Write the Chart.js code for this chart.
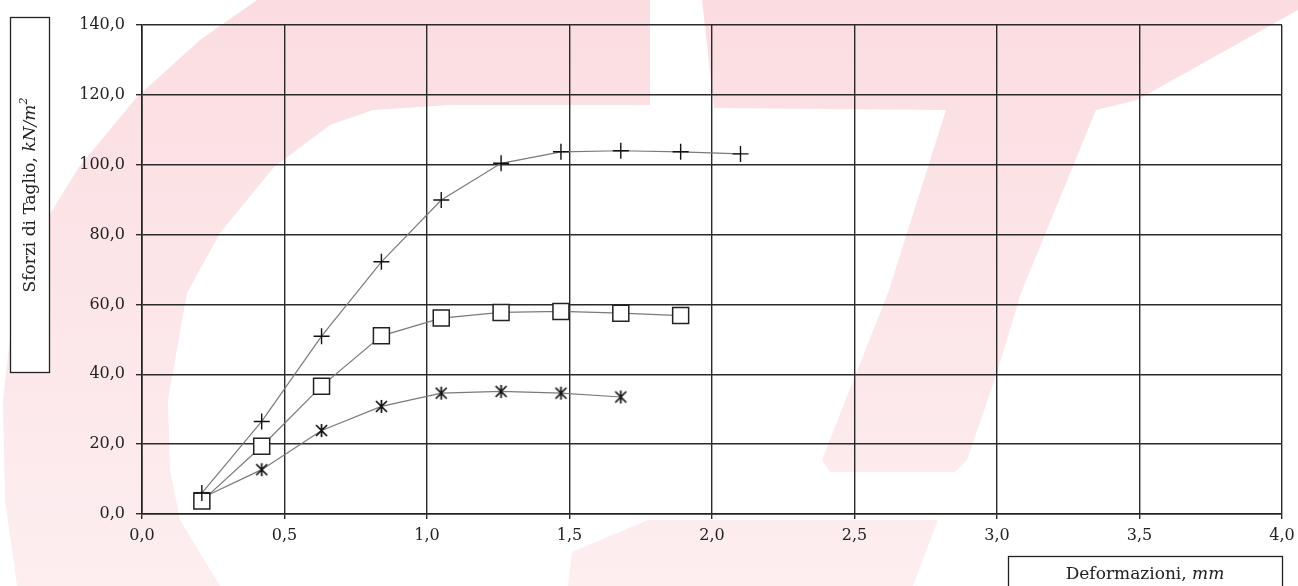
<!DOCTYPE html>
<html>
<head>
<meta charset="utf-8">
<script src="https://cdn.jsdelivr.net/npm/chart.js@4/dist/chart.umd.min.js"></script>
<style>
html,body{margin:0;padding:0;background:#fff}
#wrap{width:1298px;height:586px;position:relative}
</style>
</head>
<body>
<div id="wrap"><canvas id="chart" width="1298" height="586"></canvas></div>
<script>
// deformazioni (mm)
const xDef=[0.21,0.42,0.63,0.84,1.05,1.26,1.47,1.68,1.89,2.10];
// sforzi di taglio (kN/m2), one list per test
const sPlus=[6.0,26.5,50.9,72.2,89.9,100.4,103.7,104.0,103.7,103.1];
const sSquare=[3.7,19.4,36.6,51.0,56.1,57.7,58.0,57.5,56.8];
const sStar=[4.6,12.7,23.9,30.8,34.6,35.1,34.6,33.5];
const yTicks=[0,20,40,60,80,100,120,140];
const xTicks=[0,0.5,1,1.5,2,2.5,3,3.5,4];

const SERIF="'DejaVu Serif', serif";

function pts(vals){ return vals.map((v,i)=>({x:xDef[i],y:v})); }

/* marker for the third series: an asterisk with six arms */
function asterisk(){
  const c=document.createElement("canvas");
  c.width=17;c.height=17;
  const g=c.getContext("2d");
  g.strokeStyle="#111";g.lineWidth=1.7;
  g.beginPath();
  g.moveTo(3,3);g.lineTo(14,14);
  g.moveTo(14,3);g.lineTo(3,14);
  g.moveTo(8.5,2);g.lineTo(8.5,15);
  g.stroke();
  return c;
}

/* faint red watermark behind the scan */
const watermark={
  id:"watermark",
  beforeDraw(chart){
    const c=chart.ctx;
    c.save();
    c.fillStyle="#fff";
    c.fillRect(0,0,chart.width,chart.height);
    const grad=c.createLinearGradient(0,0,0,586);
    grad.addColorStop(0,"#fbdde1");
    grad.addColorStop(1,"#fdeef0");
    c.fillStyle=grad;
    const shapes=[
      [[257,0],[200,40],[137,97],[79,167],[40,230],[15,293],[3,400],[5,500],[17,586],[220,586],[180,520],[170,470],[168,400],[187,293],[220,233],[274,167],[330,125],[373,110],[450,105],[650,105],[650,0]],
      [[702,0],[1298,0],[1298,10],[1137,100],[1096,110],[1021,293],[996,376],[967,460],[955,472],[830,472],[822,460],[855,376],[888,293],[946,110],[714,108]],
      [[568,586],[572,552],[648,520],[938,520],[913,586]]
    ];
    shapes.forEach(s=>{
      c.beginPath();
      s.forEach((p,i)=>i?c.lineTo(p[0],p[1]):c.moveTo(p[0],p[1]));
      c.closePath();c.fill();
    });
    c.restore();
  }
};

/* boxed axis titles */
const boxTitles={
  id:"boxTitles",
  afterDraw(chart){
    const c=chart.ctx;
    c.save();
    c.lineWidth=1.3;c.strokeStyle="#222";c.fillStyle="#fff";
    // y title box
    c.fillRect(10,17,39,355);c.strokeRect(10.5,17.5,39,355);
    // x title box
    c.fillRect(1008,556,275,40);c.strokeRect(1008.5,556.5,274,40);
    c.fillStyle="#222";c.textBaseline="middle";
    const fn="17px "+SERIF, fi="italic 17px "+SERIF, fs="italic 11px "+SERIF;
    // y title, rotated
    const parts=[["Sforzi di Taglio, ",fn,0],["kN/m",fi,0],["2",fs,-7]];
    let w=0;parts.forEach(p=>{c.font=p[1];w+=c.measureText(p[0]).width;});
    c.translate(31,195);c.rotate(-Math.PI/2);
    let x=-w/2;
    parts.forEach(p=>{c.font=p[1];c.fillText(p[0],x,p[2]);x+=c.measureText(p[0]).width;});
    c.setTransform(1,0,0,1,0,0);
    // x title
    const xp=[["Deformazioni, ",fn],["mm",fi]];
    w=0;xp.forEach(p=>{c.font=p[1];w+=c.measureText(p[0]).width;});
    x=1145-w/2;
    xp.forEach(p=>{c.font=p[1];c.fillText(p[0],x,575);x+=c.measureText(p[0]).width;});
    c.restore();
  }
};

const lineCol="#7a7a7a";

new Chart(document.getElementById("chart"),{
  type:"scatter",
  data:{datasets:[
    {label:"plus",data:pts(sPlus),showLine:true,borderColor:lineCol,borderWidth:1.2,
     pointStyle:"cross",pointRadius:8,pointBorderColor:"#111",pointBorderWidth:1.4,order:1},
    {label:"square",data:pts(sSquare),showLine:true,borderColor:lineCol,borderWidth:1.2,
     pointStyle:"rect",pointRadius:11.3,pointBackgroundColor:"#fff",pointBorderColor:"#222",pointBorderWidth:1.5,order:2},
    {label:"star",data:pts(sStar),showLine:true,borderColor:lineCol,borderWidth:1.2,
     pointStyle:asterisk(),order:3}
  ]},
  options:{
    responsive:false,animation:false,
    layout:{padding:{left:0,top:25,right:16,bottom:0}},
    plugins:{legend:{display:false},tooltip:{enabled:false}},
    scales:{
      x:{type:"linear",min:0,max:4,
        afterFit(s){s.height=72;s.paddingLeft=0;s.paddingRight=0;},
        afterBuildTicks(s){s.ticks=xTicks.map(v=>({value:v}));},
        grid:{color:"#2a2a2a",lineWidth:1.4,tickLength:5,drawTicks:true},
        border:{color:"#222",width:1.6},
        ticks:{padding:7,color:"#222",font:{family:SERIF,size:16},
          callback:v=>v.toFixed(1).replace(".",","),maxRotation:0}},
      y:{min:0,max:140,
        afterFit(s){s.width=142;s.paddingTop=0;s.paddingBottom=0;},
        afterBuildTicks(s){s.ticks=yTicks.map(v=>({value:v}));},
        grid:{color:"#2a2a2a",lineWidth:1.4,tickLength:6},
        border:{color:"#222",width:1.6},
        ticks:{padding:11,color:"#222",font:{family:SERIF,size:16},
          callback:v=>v.toFixed(1).replace(".",",")}}
    }
  },
  plugins:[watermark,boxTitles]
});
</script>
</body>
</html>
